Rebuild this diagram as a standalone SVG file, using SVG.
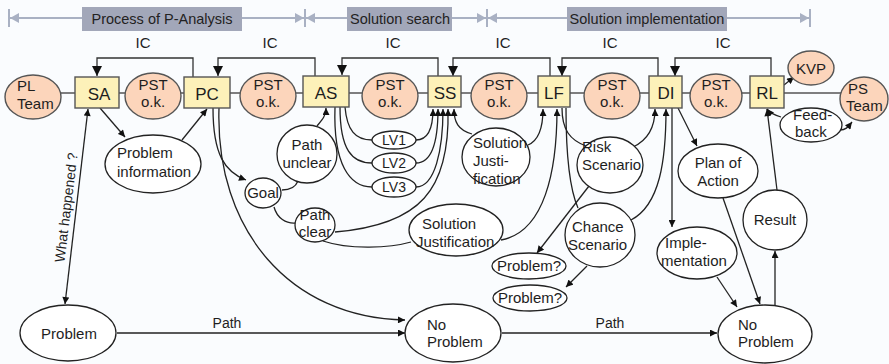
<svg xmlns="http://www.w3.org/2000/svg" width="889" height="364" viewBox="0 0 889 364">
  <style>
    .t { font-family: "Liberation Sans", Arial, sans-serif; font-size: 15px; fill: #1e1e1e; text-anchor: middle; }
    .s { text-anchor: start; }
    .big { font-size: 17px; }
    .sm { font-size: 14px; }
    .hd { font-size: 14.5px; fill: #222; }
    .box { fill: #fdf1b9; stroke: #555; stroke-width: 1.4; }
    .pst { fill: #fcd5bb; stroke: #555; stroke-width: 1.4; }
    .el { fill: #fff; stroke: #222; stroke-width: 1.3; }
    .ln { fill: none; stroke: #222; stroke-width: 1.3; }
    .ic { fill: none; stroke: #333; stroke-width: 1.3; }
    .hl { stroke: #a9b1c3; stroke-width: 2; fill: none; }
    .hh { fill: #a9b1c3; }
    .band { fill: #a2a7b9; }
  </style>
  <defs>
    <marker id="arr" viewBox="0 0 10 10" refX="10" refY="5" markerWidth="8" markerHeight="7" markerUnits="userSpaceOnUse" orient="auto-start-reverse">
      <path d="M0,0 L10,5 L0,10 z" fill="#111"/>
    </marker>
    <marker id="arrBig" viewBox="0 0 10 10" refX="10" refY="5" markerWidth="10" markerHeight="10" markerUnits="userSpaceOnUse" orient="auto">
      <path d="M0,0 L10,5 L0,10 z" fill="#111"/>
    </marker>
  </defs>

  <rect x="0" y="0" width="889" height="364" fill="#fafcfe"/>

  <!-- phase header -->
  <g id="phases">
    <line class="hl" x1="10" y1="18" x2="810" y2="18"/>
    <line class="hl" x1="9" y1="9" x2="9" y2="27"/>
    <line class="hl" x1="305" y1="9" x2="305" y2="27"/>
    <line class="hl" x1="487" y1="9" x2="487" y2="27"/>
    <line class="hl" x1="810" y1="9" x2="810" y2="27"/>
    <path class="hh" d="M10,18 L19,13 L19,23 z"/>
    <path class="hh" d="M304,18 L295,13 L295,23 z"/>
    <path class="hh" d="M306,18 L315,13 L315,23 z"/>
    <path class="hh" d="M486,18 L477,13 L477,23 z"/>
    <path class="hh" d="M488,18 L497,13 L497,23 z"/>
    <path class="hh" d="M809,18 L800,13 L800,23 z"/>
    <rect class="band" x="82" y="7" width="160" height="24"/>
    <rect class="band" x="347" y="7" width="105" height="24"/>
    <rect class="band" x="567" y="7" width="160" height="24"/>
    <text class="t hd" x="162" y="24">Process of P-Analysis</text>
    <text class="t hd" x="400" y="24">Solution search</text>
    <text class="t hd" x="647" y="24">Solution implementation</text>
  </g>

  <!-- connectors -->
  <g id="connectors">
    <!-- main chain -->
    <line x1="60" y1="93" x2="842" y2="93" stroke="#555" stroke-width="1.5"/>
    <!-- IC feedback loops -->
    <path class="ic" d="M193,77 V58 H97 V76" marker-end="url(#arrBig)"/>
    <path class="ic" d="M315,76 V58 H218 V76" marker-end="url(#arrBig)"/>
    <path class="ic" d="M438,76 V58 H342 V75" marker-end="url(#arrBig)"/>
    <path class="ic" d="M550,76 V58 H453 V76" marker-end="url(#arrBig)"/>
    <path class="ic" d="M658,76 V58 H562 V76" marker-end="url(#arrBig)"/>
    <path class="ic" d="M771,76 V58 H675 V76" marker-end="url(#arrBig)"/>

    <!-- analysis -->
    <path class="ln" d="M88,109 L65,304" marker-start="url(#arr)" marker-end="url(#arr)"/>
    <path class="ln" d="M100,108 L125,137" marker-end="url(#arr)"/>
    <path class="ln" d="M182,140 L207,109" marker-end="url(#arr)"/>
    <path class="ln" d="M213,108 C213,155 225,172 246,180" marker-end="url(#arr)"/>
    <path class="ln" d="M219,108 C215,230 290,318 405,320" marker-end="url(#arr)"/>
    <path class="ln" d="M117,333 L405,333" marker-end="url(#arr)"/>
    <path class="ln" d="M717,333 L717,333"/>

    <!-- search -->
    <path class="ln" d="M282,190 C292,190 296,186 298,181"/>
    <path class="ln" d="M274,207 C277,218 286,224 296,223"/>
    <path class="ln" d="M317,126 C322,120 326,116 326,108" marker-end="url(#arr)"/>
    <path class="ln" d="M335,232 C420,225 450,190 448,109" marker-end="url(#arr)"/>
    <path class="ln" d="M323,241 C350,250 390,248 411,242"/>
    <path class="ln" d="M345,107 C347,130 355,140 372,140"/>
    <path class="ln" d="M340,107 C340,150 352,163 372,163"/>
    <path class="ln" d="M335,107 C333,165 350,187 372,187"/>
    <path class="ln" d="M416,140 C428,140 433,128 433,109" marker-end="url(#arr)"/>
    <path class="ln" d="M416,163 C432,163 438,140 438,109" marker-end="url(#arr)"/>
    <path class="ln" d="M416,187 C435,187 443,150 443,109" marker-end="url(#arr)"/>
    <path class="ln" d="M472,134 C458,130 454,122 454,109" marker-end="url(#arr)"/>

    <!-- implementation -->
    <path class="ln" d="M528,145 C540,140 543,125 543,109" marker-end="url(#arr)"/>
    <path class="ln" d="M501,240 C545,232 557,170 557,109" marker-end="url(#arr)"/>
    <path class="ln" d="M562,108 C562,130 570,140 586,146"/>
    <path class="ln" d="M566,108 C566,160 570,190 578,208"/>
    <path class="ln" d="M589,186 L537,253" marker-end="url(#arr)"/>
    <path class="ln" d="M587,266 L566,287" marker-end="url(#arr)"/>
    <path class="ln" d="M633,147 C648,140 655,128 655,109" marker-end="url(#arr)"/>
    <path class="ln" d="M631,220 C660,205 666,160 666,109" marker-end="url(#arr)"/>
    <path class="ln" d="M672,108 L672,227" marker-end="url(#arr)"/>
    <path class="ln" d="M678,108 L697,146" marker-end="url(#arr)"/>
    <path class="ln" d="M723,198 L760,304" marker-end="url(#arr)"/>
    <path class="ln" d="M717,277 L737,307" marker-end="url(#arr)"/>
    <path class="ln" d="M502,333 L717,333" marker-end="url(#arr)"/>
    <path class="ln" d="M775,305 L775,251" marker-end="url(#arr)"/>
    <path class="ln" d="M777,190 L767,109" marker-end="url(#arr)"/>
    <path class="ln" d="M781,117 C774,115 770,113 767,109" marker-end="url(#arr)"/>
    <path class="ln" d="M840,130 C846,130 848,127 852,122" marker-end="url(#arr)"/>
    <path class="ln" d="M784,85 L794,77" marker-end="url(#arr)"/>

    <!-- connector labels -->
    <text class="t" x="143" y="48">IC</text>
    <text class="t" x="270" y="48">IC</text>
    <text class="t" x="393" y="48">IC</text>
    <text class="t" x="503" y="48">IC</text>
    <text class="t" x="610" y="48">IC</text>
    <text class="t" x="723" y="48">IC</text>
    <text class="t sm" x="227" y="328">Path</text>
    <text class="t sm" x="610" y="328">Path</text>
    <text class="t sm" transform="translate(71,208) rotate(-83)">What happened ?</text>
  </g>

  <!-- chain nodes -->
  <g id="pl-team">
    <ellipse class="pst" cx="33" cy="97" rx="28" ry="22"/>
    <text class="t s" x="17" y="91">PL</text>
    <text class="t s" x="17" y="109">Team</text>
  </g>
  <g id="sa">
    <rect class="box" x="75" y="77" width="44" height="31"/>
    <text class="t big" x="99" y="100">SA</text>
  </g>
  <g id="pst-1">
    <ellipse class="pst" cx="153" cy="96" rx="28" ry="23"/>
    <text class="t" x="153" y="90">PST</text>
    <text class="t" x="153" y="107">o.k.</text>
  </g>
  <g id="pc">
    <rect class="box" x="184" y="77" width="46" height="31"/>
    <text class="t big" x="207" y="100">PC</text>
  </g>
  <g id="pst-2">
    <ellipse class="pst" cx="268" cy="96" rx="28" ry="23"/>
    <text class="t" x="268" y="90">PST</text>
    <text class="t" x="268" y="107">o.k.</text>
  </g>
  <g id="as">
    <rect class="box" x="303" y="76" width="46" height="31"/>
    <text class="t big" x="326" y="99">AS</text>
  </g>
  <g id="pst-3">
    <ellipse class="pst" cx="390" cy="96" rx="28" ry="23"/>
    <text class="t" x="390" y="90">PST</text>
    <text class="t" x="390" y="107">o.k.</text>
  </g>
  <g id="ss">
    <rect class="box" x="428" y="76" width="33" height="31"/>
    <text class="t big" x="445" y="99">SS</text>
  </g>
  <g id="pst-4">
    <ellipse class="pst" cx="499" cy="96" rx="28" ry="23"/>
    <text class="t" x="499" y="90">PST</text>
    <text class="t" x="499" y="107">o.k.</text>
  </g>
  <g id="lf">
    <rect class="box" x="538" y="76" width="32" height="31"/>
    <text class="t big" x="554" y="99">LF</text>
  </g>
  <g id="pst-5">
    <ellipse class="pst" cx="612" cy="96" rx="28" ry="23"/>
    <text class="t" x="612" y="90">PST</text>
    <text class="t" x="612" y="107">o.k.</text>
  </g>
  <g id="di">
    <rect class="box" x="649" y="76" width="33" height="32"/>
    <text class="t big" x="666" y="99">DI</text>
  </g>
  <g id="pst-6">
    <ellipse class="pst" cx="716" cy="96" rx="26" ry="22"/>
    <text class="t" x="716" y="90">PST</text>
    <text class="t" x="716" y="107">o.k.</text>
  </g>
  <g id="rl">
    <rect class="box" x="750" y="76" width="34" height="32"/>
    <text class="t big" x="767" y="99">RL</text>
  </g>
  <g id="kvp">
    <ellipse class="pst" cx="811" cy="68" rx="23" ry="17"/>
    <text class="t" x="811" y="74">KVP</text>
  </g>
  <g id="ps-team">
    <ellipse class="pst" cx="864" cy="99" rx="24" ry="22"/>
    <text class="t s" x="848" y="94">PS</text>
    <text class="t s" x="846" y="111">Team</text>
  </g>

  <!-- analysis nodes -->
  <g id="problem-information">
    <ellipse class="el" cx="153" cy="164" rx="48" ry="29"/>
    <text class="t s" x="117" y="158">Problem</text>
    <text class="t s" x="117" y="177">information</text>
  </g>
  <g id="problem">
    <ellipse class="el" cx="68" cy="333" rx="48" ry="28"/>
    <text class="t" x="69" y="339">Problem</text>
  </g>
  <g id="goal">
    <ellipse class="el" cx="263" cy="193" rx="18" ry="15"/>
    <text class="t" x="263" y="198">Goal</text>
  </g>
  <g id="path-unclear">
    <ellipse class="el" cx="307" cy="154" rx="30" ry="29"/>
    <text class="t" x="307" y="150">Path</text>
    <text class="t" x="307" y="168">unclear</text>
  </g>
  <g id="path-clear">
    <ellipse class="el" cx="315" cy="225" rx="20" ry="17"/>
    <text class="t" x="315" y="220">Path</text>
    <text class="t" x="315" y="237">clear</text>
  </g>

  <!-- search nodes -->
  <g id="lv1">
    <ellipse class="el" cx="394" cy="140" rx="22" ry="9"/>
    <text class="t sm" x="394" y="145">LV1</text>
  </g>
  <g id="lv2">
    <ellipse class="el" cx="394" cy="163" rx="22" ry="10"/>
    <text class="t sm" x="394" y="168">LV2</text>
  </g>
  <g id="lv3">
    <ellipse class="el" cx="394" cy="187" rx="22" ry="10"/>
    <text class="t sm" x="394" y="192">LV3</text>
  </g>
  <g id="solution-justification-1">
    <ellipse class="el" cx="496" cy="157" rx="34" ry="29"/>
    <text class="t s" x="473" y="148">Solution</text>
    <text class="t s" x="473" y="166">Justi-</text>
    <text class="t s" x="473" y="184">fication</text>
  </g>
  <g id="solution-justification-2">
    <ellipse class="el" cx="456" cy="230" rx="47" ry="26"/>
    <text class="t s" x="422" y="229">Solution</text>
    <text class="t s" x="416" y="247">Justification</text>
  </g>

  <!-- implementation nodes -->
  <g id="risk-scenario">
    <ellipse class="el" cx="610" cy="165" rx="33" ry="28"/>
    <text class="t s" x="582" y="152">Risk</text>
    <text class="t s" x="582" y="170">Scenario</text>
  </g>
  <g id="chance-scenario">
    <ellipse class="el" cx="600" cy="235" rx="35" ry="32"/>
    <text class="t s" x="572" y="232">Chance</text>
    <text class="t s" x="568" y="250">Scenario</text>
  </g>
  <g id="problem-q-1">
    <ellipse class="el" cx="529" cy="266" rx="37" ry="13"/>
    <text class="t" x="529" y="271">Problem?</text>
  </g>
  <g id="problem-q-2">
    <ellipse class="el" cx="530" cy="298" rx="37" ry="13"/>
    <text class="t" x="530" y="303">Problem?</text>
  </g>
  <g id="plan-of-action">
    <ellipse class="el" cx="718" cy="171" rx="40" ry="27"/>
    <text class="t" x="718" y="168">Plan of</text>
    <text class="t" x="718" y="186">Action</text>
  </g>
  <g id="implementation">
    <ellipse class="el" cx="697" cy="253" rx="40" ry="26"/>
    <text class="t s" x="665" y="248">Imple-</text>
    <text class="t s" x="661" y="266">mentation</text>
  </g>
  <g id="result">
    <ellipse class="el" cx="775" cy="220" rx="32" ry="30"/>
    <text class="t" x="775" y="225">Result</text>
  </g>
  <g id="feedback">
    <ellipse class="el" cx="811" cy="125" rx="31" ry="17"/>
    <text class="t s" x="793" y="120">Feed-</text>
    <text class="t s" x="795" y="137">back</text>
  </g>
  <g id="no-problem-1">
    <ellipse class="el" cx="453" cy="333" rx="48" ry="29"/>
    <text class="t s" x="427" y="330">No</text>
    <text class="t s" x="427" y="347">Problem</text>
  </g>
  <g id="no-problem-2">
    <ellipse class="el" cx="765" cy="334" rx="47" ry="29"/>
    <text class="t s" x="738" y="330">No</text>
    <text class="t s" x="738" y="347">Problem</text>
  </g>
</svg>
